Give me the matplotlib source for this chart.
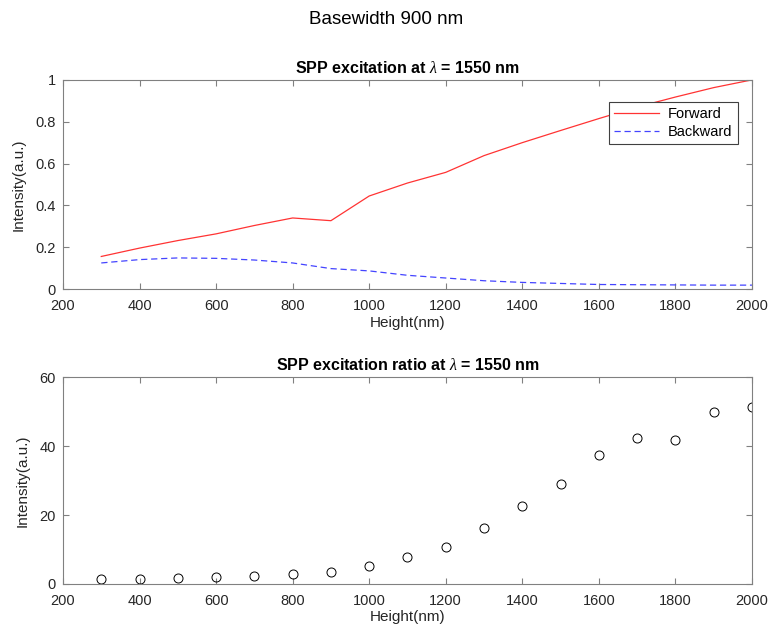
import matplotlib
matplotlib.use('Agg')
import matplotlib.pyplot as plt

plt.rcParams['font.family'] = ['Liberation Sans', 'DejaVu Sans']
plt.rcParams['mathtext.fontset'] = 'custom'
plt.rcParams['mathtext.it'] = 'Liberation Serif:italic'

heights = [300, 400, 500, 600, 700, 800, 900, 1000, 1100, 1200,
           1300, 1400, 1500, 1600, 1700, 1800, 1900, 2000]
forward = [0.156, 0.196, 0.232, 0.264, 0.304, 0.340, 0.327, 0.445, 0.507, 0.558,
           0.638, 0.700, 0.758, 0.815, 0.870, 0.918, 0.963, 1.0]
backward = [0.125, 0.141, 0.149, 0.147, 0.139, 0.125, 0.098, 0.087, 0.066, 0.053,
            0.040, 0.032, 0.027, 0.022, 0.021, 0.020, 0.019, 0.019]
ratio = [1.3, 1.5, 1.8, 2.0, 2.4, 2.9, 3.5, 5.3, 7.7, 10.7,
         16.3, 22.6, 28.9, 37.3, 42.5, 41.9, 50.0, 51.5]

grey = '#262626'
axis_grey = '#808080'

fig = plt.figure(figsize=(7.72, 6.34), dpi=100)
fig.suptitle('Basewidth 900 nm', fontsize=13.5, y=0.982, color='black')

ax1 = fig.add_axes([0.0816, 0.544, 0.8924, 0.330])
ax2 = fig.add_axes([0.0816, 0.079, 0.8924, 0.326])


def matlab_style(ax):
    ax.tick_params(direction='in', top=True, right=True, length=4,
                   color=axis_grey, labelcolor=grey, labelsize=10.5)
    ax.tick_params(axis='x', pad=7)
    ax.tick_params(axis='y', pad=5)
    for s in ax.spines.values():
        s.set_color(axis_grey)
        s.set_linewidth(0.8)
    ax.set_xlim(200, 2000)
    ax.set_xticks(range(200, 2001, 200))
    ax.set_xlabel('Height(nm)', fontsize=11, color=grey, labelpad=2)
    ax.set_ylabel('Intensity(a.u.)', fontsize=11, color=grey, labelpad=7)


ax1.plot(heights, forward, color='#ff3333', lw=0.9, label='Forward')
ax1.plot(heights, backward, color='#4444ff', lw=0.9, ls=(0, (5, 3)), label='Backward')
matlab_style(ax1)
ax1.set_ylim(0, 1)
ax1.set_yticks([0, 0.2, 0.4, 0.6, 0.8, 1])
ax1.set_yticklabels(['0', '0.2', '0.4', '0.6', '0.8', '1'])
ax1.set_title(r'SPP excitation at $\lambda$ = 1550 nm', fontsize=11.5, fontweight='bold', pad=5)
leg = ax1.legend(loc='upper right', bbox_to_anchor=(0.99, 0.93), fontsize=10.5,
                 fancybox=False, framealpha=1, edgecolor='#404040',
                 handlelength=3.1, borderpad=0.35, labelspacing=0.3, handletextpad=0.6)
leg.get_frame().set_linewidth(0.8)

ax2.plot(heights, ratio, 'o', mfc='none', mec='black', ms=6.5, mew=0.7)
matlab_style(ax2)
ax2.set_ylim(0, 60)
ax2.set_yticks([0, 20, 40, 60])
ax2.set_title(r'SPP excitation ratio at $\lambda$ = 1550 nm', fontsize=11.5, fontweight='bold', pad=5)

fig.savefig('out.png', dpi=100)
